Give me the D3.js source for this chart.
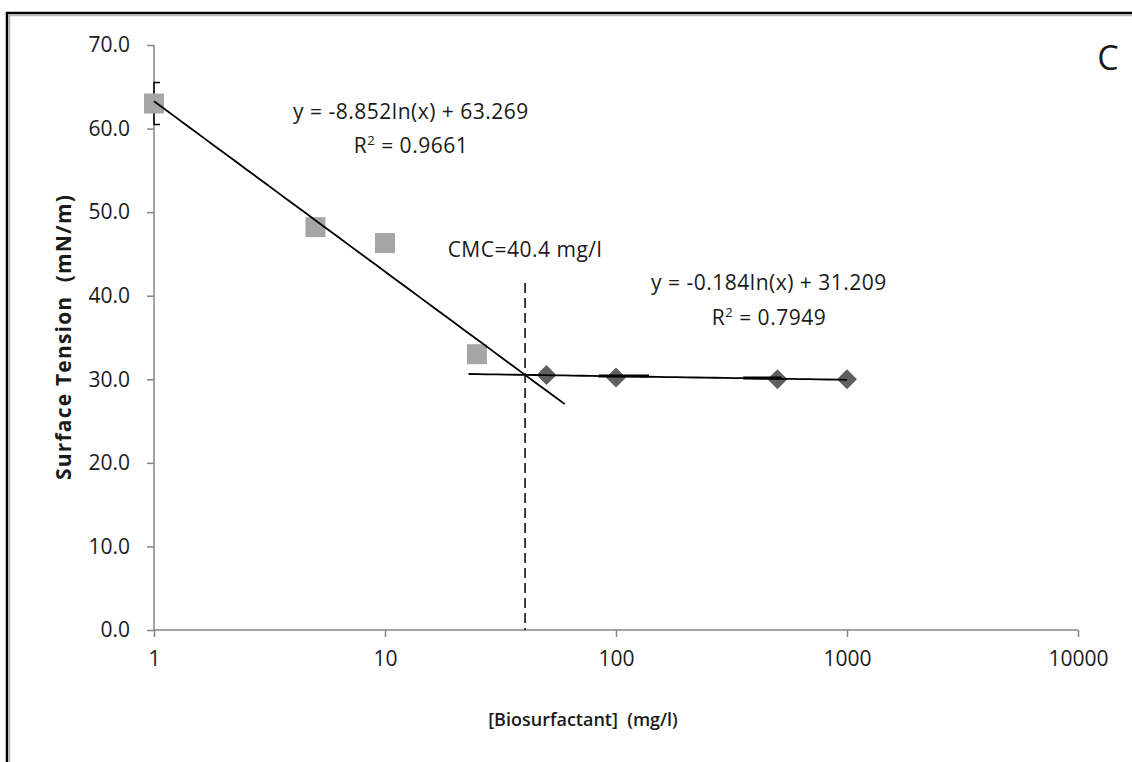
<!DOCTYPE html>
<html>
<head>
<meta charset="utf-8">
<script src="https://cdn.jsdelivr.net/npm/d3@7"></script>
<style>
  body { margin: 0; background: #fff; }
  text { font-family: "Open Sans", "Noto Sans", sans-serif; fill: #1a1a1a; white-space: pre; }
</style>
</head>
<body>
<script>
// data
var premicelleConc = [1, 5, 10, 25];
var premicelleTension = [63.0, 48.2, 46.3, 33.0];
var firstPointErr = 2.5;

var micelleConc = [50, 100, 500, 1000];
var micelleTension = [30.5, 30.2, 30.0, 30.0];

// fitted log trends y = a ln(x) + b
var fit1 = { a: -8.852, b: 63.269, from: 1, to: 60 };
var fit2 = { a: -0.184, b: 31.209, from: 23, to: 1000 };
var cmc = 40.4;

var xTicks = [1, 10, 100, 1000, 10000];
var yTicks = [0, 10, 20, 30, 40, 50, 60, 70];

var width = 1132, height = 762;
var margin = { top: 45, right: 54, bottom: 132, left: 154 };

var svg = d3.select("body").append("svg")
  .attr("width", width)
  .attr("height", height);

// outer frame (clipped at the right and bottom like the source image)
svg.append("rect")
  .attr("x", 7).attr("y", 13)
  .attr("width", width + 20).attr("height", height + 20)
  .attr("fill", "none").attr("stroke", "#000").attr("stroke-width", 2.5);
svg.append("path")
  .attr("d", "M9.5," + (height + 5) + "V15.5H" + (width + 5))
  .attr("fill", "none").attr("stroke", "#b5b5b5").attr("stroke-width", 1.5);

var x = d3.scaleLog()
  .domain([1, 10000])
  .range([margin.left, width - margin.right]);

var y = d3.scaleLinear()
  .domain([0, 70])
  .range([height - margin.bottom, margin.top]);

var g = svg.append("g");

// axes
var xAxis = g.append("g")
  .attr("transform", "translate(0," + y(0) + ")")
  .call(d3.axisBottom(x).tickValues(xTicks).tickFormat(d3.format("d")).tickSize(7).tickPadding(14));
var yAxis = g.append("g")
  .attr("transform", "translate(" + x(1) + ",0)")
  .call(d3.axisLeft(y).tickValues(yTicks).tickFormat(d3.format(".1f")).tickSize(7).tickPadding(17));

[xAxis, yAxis].forEach(function (ax) {
  ax.select(".domain").attr("stroke", "#868686").attr("stroke-width", 1.5);
  ax.selectAll(".tick line").attr("stroke", "#868686").attr("stroke-width", 1.5);
  ax.selectAll(".tick text")
    .style("font-family", "'Open Sans', sans-serif")
    .style("font-size", "21px")
    .attr("fill", "#1a1a1a");
});
xAxis.selectAll(".domain").attr("d", "M" + x(1) + ",0H" + x(10000));
yAxis.selectAll(".domain").attr("d", "M0," + y(0) + "V" + y(70));

// axis titles
svg.append("text")
  .attr("x", 583).attr("y", 726)
  .attr("text-anchor", "middle")
  .style("font-size", "18px")
  .style("font-weight", "600")
  .text("[Biosurfactant]  (mg/l)");

svg.append("text")
  .attr("transform", "translate(71,337) rotate(-90)")
  .attr("text-anchor", "middle")
  .style("font-size", "21px")
  .style("font-weight", "bold")
  .style("letter-spacing", "1.2px")
  .text("Surface Tension  (mN/m)");

svg.append("text")
  .attr("x", 1108).attr("y", 70)
  .attr("text-anchor", "middle")
  .style("font-size", "34px")
  .text("C");

// CMC dashed marker
g.append("line")
  .attr("x1", x(cmc)).attr("x2", x(cmc))
  .attr("y1", 283).attr("y2", y(0))
  .attr("stroke", "#000").attr("stroke-width", 1.5)
  .attr("stroke-dasharray", "10,5");

// error bar on first point
var eb = g.append("g").attr("stroke", "#000").attr("stroke-width", 1.5).attr("fill", "none");
eb.append("path")
  .attr("d", "M" + (x(1) + 6) + "," + y(premicelleTension[0] + firstPointErr) +
             "H" + x(1) + "V" + y(premicelleTension[0] - firstPointErr) + "H" + (x(1) + 6));

// squares
g.selectAll("rect.pre")
  .data(premicelleConc)
  .enter().append("rect")
  .attr("class", "pre")
  .attr("x", function (d) { return x(d) - 10; })
  .attr("y", function (d, i) { return y(premicelleTension[i]) - 10; })
  .attr("width", 20).attr("height", 20)
  .attr("fill", "#a6a6a6");

// diamonds
g.selectAll("path.mic")
  .data(micelleConc)
  .enter().append("path")
  .attr("class", "mic")
  .attr("d", function (d, i) {
    var cx = x(d), cy = y(micelleTension[i]), r = 10;
    return "M" + cx + "," + (cy - r) + "L" + (cx + r) + "," + cy +
           "L" + cx + "," + (cy + r) + "L" + (cx - r) + "," + cy + "Z";
  })
  .attr("fill", "#5f5f5f");

// trend lines
function trend(f) {
  var xs = d3.range(0, 41).map(function (i) {
    return Math.pow(10, Math.log10(f.from) + i / 40 * (Math.log10(f.to) - Math.log10(f.from)));
  });
  return d3.line()
    .x(function (d) { return x(d); })
    .y(function (d) { return y(f.a * Math.log(d) + f.b); })(xs);
}
g.append("path").attr("d", trend(fit1))
  .attr("fill", "none").attr("stroke", "#000").attr("stroke-width", 1.8);
g.append("path").attr("d", trend(fit2))
  .attr("fill", "none").attr("stroke", "#000").attr("stroke-width", 1.8);

// thicker short segments around the micelle points
var thickSeg = [[84, 139], [355, 520]];
g.selectAll("line.thick")
  .data(thickSeg)
  .enter().append("line")
  .attr("x1", function (d) { return x(d[0]); })
  .attr("x2", function (d) { return x(d[1]); })
  .attr("y1", function (d) { return y(fit2.a * Math.log(Math.sqrt(d[0] * d[1])) + fit2.b) - 0.5; })
  .attr("y2", function (d) { return y(fit2.a * Math.log(Math.sqrt(d[0] * d[1])) + fit2.b) - 0.5; })
  .attr("stroke", "#000").attr("stroke-width", 3);

// labels
function label(tx, ty, txt, sup) {
  var t = svg.append("text").attr("x", tx).attr("y", ty)
    .attr("text-anchor", "middle").style("font-size", "21px")
    .style("letter-spacing", "0.5px");
  if (sup) {
    t.append("tspan").text("R");
    t.append("tspan").attr("dy", -8).style("font-size", "13px").text("2");
    t.append("tspan").attr("dy", 8).text(txt);
  } else {
    t.text(txt);
  }
}
label(411, 119, "y = -8.852ln(x) + 63.269");
label(411, 153, " = 0.9661", true);
label(525, 257, "CMC=40.4 mg/l");
label(769, 290, "y = -0.184ln(x) + 31.209");
label(769, 325, " = 0.7949", true);
</script>
</body>
</html>
